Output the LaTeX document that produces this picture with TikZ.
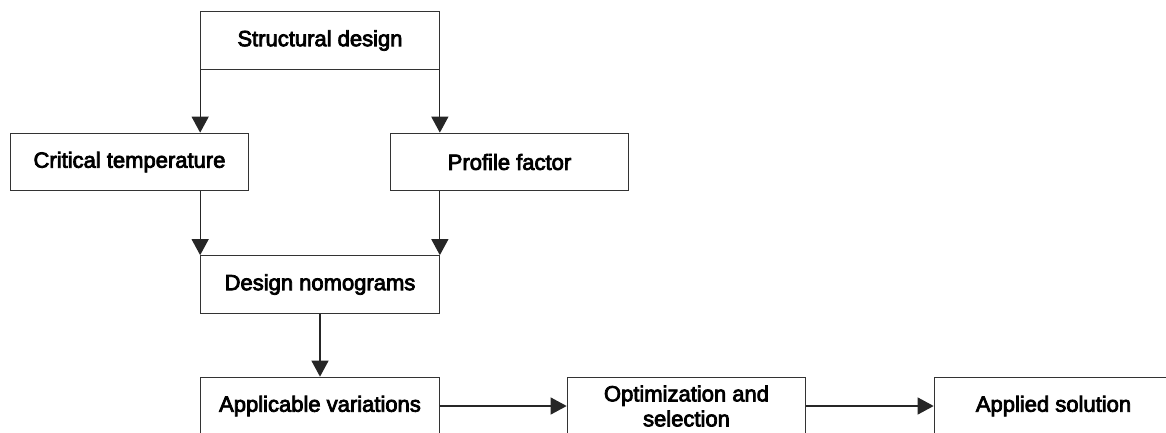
\documentclass[tikz,border=0pt]{standalone}
\usepackage{fontspec}
\setmainfont{Liberation Sans}
\newfontfamily\heavyfont{Liberation Sans}[FakeBold=3.5]
\usetikzlibrary{arrows.meta}
\begin{document}
\begin{tikzpicture}[x=1pt,y=-1pt,
  box/.style={draw=black!80, line width=1.2pt, minimum width=238.5pt, minimum height=57.5pt,
    inner sep=0pt, align=center, font=\heavyfont\fontsize{22}{25}\selectfont},
  arr/.style={draw=black!85, line width=1.2pt, -{Triangle[width=17pt,length=16pt]}}]
\useasboundingbox (0,0) rectangle (1166,432);
\clip (0,0) rectangle (1166,432);
\fill[white] (0,0) rectangle (1166,432);
\node[box] (sd) at (320,40.5) {Structural design};
\node[box] (ct) at (129.5,162) {Critical temperature};
\node[box] (pf) at (509.5,162) {Profile factor};
\node[box] (dn) at (320,284.5) {Design nomograms};
\node[box] (av) at (320,406) {Applicable variations};
\node[box] (os) at (686.5,406) {Optimization and\\selection};
\node[box] (as) at (1053.5,406) {Applied solution};
\draw[arr] (sd.south west) -- (sd.south west |- ct.north);
\draw[arr] (sd.south east) -- (pf.north west -| sd.south east);
\draw[arr] (dn.north west |- ct.south) -- (dn.north west);
\draw[arr] (dn.north east |- pf.south) -- (dn.north east);
\draw[arr] (dn.south) -- (av.north);
\draw[arr] (av.east) -- (os.west);
\draw[arr] (os.east) -- (as.west);
\end{tikzpicture}
\end{document}
